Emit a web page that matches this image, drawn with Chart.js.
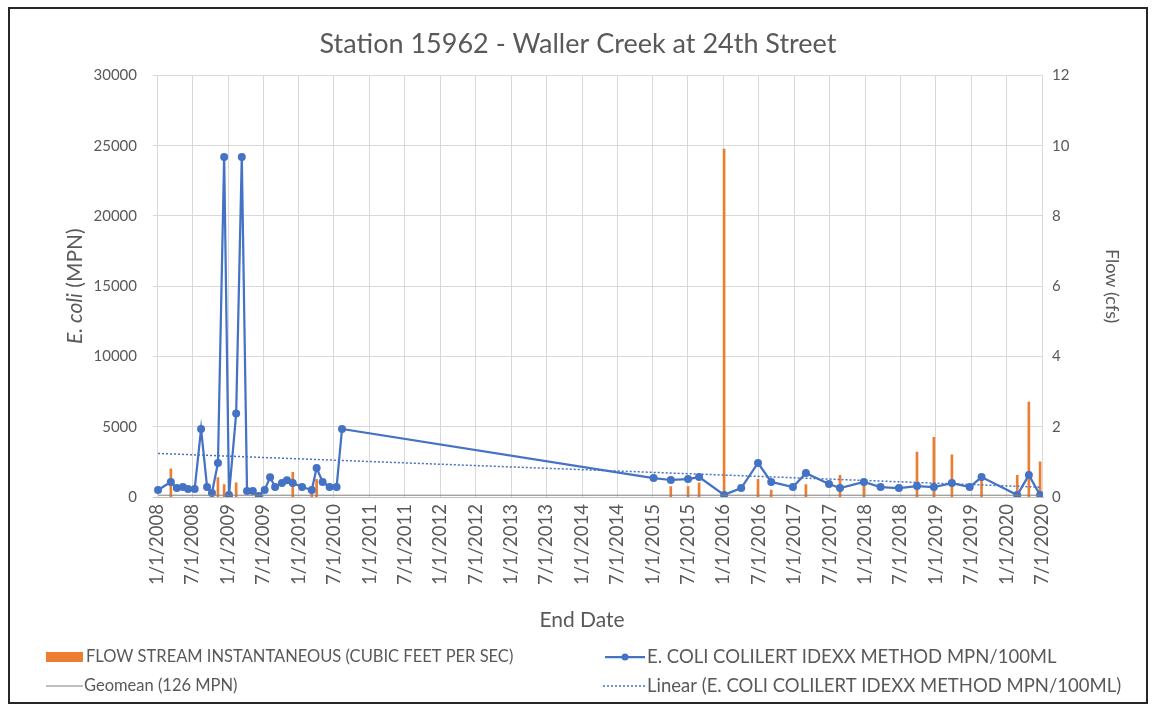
<!DOCTYPE html>
<html><head><meta charset="utf-8">
<script src="https://cdn.jsdelivr.net/npm/chart.js@4/dist/chart.umd.min.js"></script>
<style>html,body{margin:0;padding:0;background:#fff;}#wrap{position:relative;width:1156px;height:711px;}</style>
</head><body><div id="wrap"><canvas id="c" width="1156" height="711"></canvas></div>
<script>
const chartTitle = 'Station 15962 - Waller Creek at 24th Street';
const xAxisTitle = 'End Date';
const yLeftTitleItalic = 'E. coli';
const yLeftTitleRest = ' (MPN)';
const yRightTitle = 'Flow (cfs)';

const tickLabels = ['1/1/2008','7/1/2008','1/1/2009','7/1/2009','1/1/2010','7/1/2010','1/1/2011','7/1/2011',
  '1/1/2012','7/1/2012','1/1/2013','7/1/2013','1/1/2014','7/1/2014','1/1/2015','7/1/2015','1/1/2016','7/1/2016',
  '1/1/2017','7/1/2017','1/1/2018','7/1/2018','1/1/2019','7/1/2019','1/1/2020','7/1/2020'];

const ecoliDates = ['2008-01-06','2008-03-12','2008-04-12','2008-05-13','2008-06-09','2008-07-13','2008-08-15',
  '2008-09-15','2008-10-10','2008-11-10','2008-12-12','2009-01-06','2009-02-12','2009-03-13','2009-04-09',
  '2009-05-09','2009-06-09','2009-07-09','2009-08-06','2009-09-01','2009-10-06','2009-11-01','2009-12-01',
  '2010-01-18','2010-03-09','2010-04-03','2010-05-04','2010-06-09','2010-07-15','2010-08-12',
  '2015-01-05','2015-04-04','2015-07-02','2015-08-28','2016-01-04','2016-04-01','2016-06-27','2016-09-03',
  '2016-12-24','2017-03-01','2017-06-28','2017-08-24','2017-12-25','2018-03-21','2018-06-24','2018-09-25',
  '2018-12-21','2019-03-24','2019-06-24','2019-08-24','2020-02-24','2020-04-24','2020-06-21'];
const ecoliValues = [500,1070,640,710,570,570,4840,
  710,280,2420,24196,140,5940,24196,430,
  430,70,500,1400,710,990,1200,1000,
  710,500,2060,1070,710,710,4840,
  1350,1210,1280,1420,150,640,2420,1070,
  710,1700,920,640,1070,710,640,780,
  710,990,710,1420,140,1560,140];

const flowDates = ['2008-03-12','2008-11-10','2008-12-12','2009-02-12','2009-12-01','2010-03-09','2010-04-03',
  '2015-04-04','2015-07-02','2015-08-28','2016-01-04','2016-06-27','2016-09-03','2017-03-01','2017-08-24',
  '2017-12-25','2018-09-25','2018-12-21','2019-03-24','2019-08-24','2020-02-24','2020-04-24','2020-06-21'];
const flowValues = [0.8,0.55,0.35,0.4,0.7,0.3,0.5,
  0.3,0.3,0.4,9.9,0.5,0.2,0.35,0.62,
  0.45,1.28,1.7,1.2,0.6,0.62,2.7,1.0];

const geomeanDates = ['2008-01-06','2020-06-21'];
const geomeanValues = [126,126];
const trendDates = ['2008-01-06','2020-06-21'];
const trendValues = [3100,700];

const FONT = 'Lato';
const TXT = '#595959';
const BLUE = '#4472C4';
const ORANGE = '#ED7D31';

function dayISO(s){const p=s.split('-').map(Number);return Date.UTC(p[0],p[1]-1,p[2])/864e5;}
function dayUS(s){const p=s.split('/').map(Number);return Date.UTC(p[2],p[0]-1,p[1])/864e5;}
const tickValues = tickLabels.map(dayUS);
const pts = (ds,vs,f)=>ds.map((d,i)=>({x:f(d),y:vs[i]}));

const borderPlugin = {
  id:'frame',
  beforeDraw(chart){
    const c=chart.ctx;c.save();c.fillStyle='#fff';c.fillRect(0,0,chart.width,chart.height);
    c.strokeStyle='#262626';c.lineWidth=2;c.strokeRect(9,8,1138,695);c.restore();
  }
};
const axisTitlesPlugin = {
  id:'axisTitles',
  afterDraw(chart){
    const c=chart.ctx;const a=chart.chartArea;c.save();
    c.fillStyle=TXT;c.textBaseline='middle';
    // x axis title
    c.font='21px '+FONT;c.textAlign='center';c.fillText(xAxisTitle,582,620);
    // left y title with italic part
    c.translate(75,(a.top+a.bottom)/2);c.rotate(-Math.PI/2);
    const fi='italic 21px '+FONT, fn='21px '+FONT;
    c.font=fi;const w1=c.measureText(yLeftTitleItalic).width;
    c.font=fn;const w2=c.measureText(yLeftTitleRest).width;
    let x=-(w1+w2)/2;
    c.font=fi;c.textAlign='left';c.fillText(yLeftTitleItalic,x,0);
    c.font=fn;c.fillText(yLeftTitleRest,x+w1,0);
    c.restore();
  }
};
const legendPlugin = {
  id:'customLegend',
  afterDraw(chart){
    const c=chart.ctx;const ds=chart.data.datasets;c.save();
    c.fillStyle=TXT;c.textBaseline='middle';c.textAlign='left';
    const flow=ds[3], ec=ds[0], geo=ds[2], tr=ds[1];
    const fl='16.5px '+FONT, fr='18.5px '+FONT;
    c.fillStyle=flow.backgroundColor;c.fillRect(46,652,37,10);
    c.font=fl;c.fillStyle=TXT;c.fillText(flow.label,86,657);
    c.strokeStyle=ec.borderColor;c.lineWidth=2.25;c.beginPath();c.moveTo(605,657);c.lineTo(645,657);c.stroke();
    c.fillStyle=ec.borderColor;c.beginPath();c.arc(625,657,3.5,0,Math.PI*2);c.fill();
    c.font=fr;c.fillStyle=TXT;c.fillText(ec.label,647,657);
    c.strokeStyle=geo.borderColor;c.lineWidth=1;c.beginPath();c.moveTo(46,686);c.lineTo(83,686);c.stroke();
    c.font=fl;c.fillText(geo.label,84,686);
    c.strokeStyle=tr.borderColor;c.lineWidth=1.5;c.setLineDash([2,2]);c.beginPath();c.moveTo(603,686);c.lineTo(645,686);c.stroke();
    c.setLineDash([]);c.font=fr;c.fillText(tr.label,647,686);
    c.restore();
  }
};

function build(){
  new Chart(document.getElementById('c'),{
    data:{datasets:[
      {type:'line',label:'E. COLI COLILERT IDEXX METHOD MPN/100ML',data:pts(ecoliDates,ecoliValues,dayISO),yAxisID:'y',
        borderColor:BLUE,backgroundColor:BLUE,borderWidth:2.25,pointRadius:4,pointHoverRadius:4,pointBorderWidth:0,tension:0,order:2},
      {type:'line',label:'Linear (E. COLI COLILERT IDEXX METHOD MPN/100ML)',data:pts(trendDates,trendValues,dayISO),yAxisID:'y',
        borderColor:BLUE,borderWidth:1.5,borderDash:[2,2],pointRadius:0,order:1},
      {type:'line',label:'Geomean (126 MPN)',data:pts(geomeanDates,geomeanValues,dayISO),yAxisID:'y',
        borderColor:'#7F7F7F',borderWidth:1,pointRadius:0,order:0},
      {type:'bar',label:'FLOW STREAM INSTANTANEOUS (CUBIC FEET PER SEC)',data:pts(flowDates,flowValues,dayISO),yAxisID:'y1',
        backgroundColor:ORANGE,barThickness:2,order:3}
    ]},
    options:{
      responsive:false,animation:false,devicePixelRatio:1,
      layout:{padding:{left:0,right:0,top:0,bottom:80}},
      plugins:{
        legend:{display:false},tooltip:{enabled:false},
        title:{display:true,text:chartTitle,color:TXT,font:{family:FONT,size:27,weight:'normal'},padding:{top:28,bottom:15}}
      },
      scales:{
        x:{type:'linear',offset:false,min:dayISO('2007-12-11'),max:dayISO('2020-07-06'),
          afterBuildTicks:s=>{s.ticks=tickValues.map(v=>({value:v}));},
          afterFit:s=>{s.height=134;},
          ticks:{autoSkip:false,minRotation:90,maxRotation:90,padding:7,color:TXT,font:{family:FONT,size:18.5},
            callback:(v,i)=>tickLabels[i]},
          grid:{color:'#D9D9D9',drawTicks:false,offset:false},
          border:{color:'#BFBFBF',width:1},
          title:{display:false,text:xAxisTitle}
        },
        y:{position:'left',min:0,max:30000,afterFit:s=>{s.width=153;},
          ticks:{stepSize:5000,padding:16,color:TXT,font:{family:FONT,size:15},callback:v=>String(v)},
          grid:{color:'#D9D9D9',drawTicks:false},border:{display:false}},
        y1:{position:'right',min:0,max:12,afterFit:s=>{s.width=113;},
          ticks:{stepSize:2,padding:9,color:TXT,font:{family:FONT,size:15},callback:v=>String(v)},
          grid:{display:false,drawTicks:false},border:{display:false},
          title:{display:true,text:yRightTitle,color:TXT,font:{family:FONT,size:18},padding:{top:33,bottom:0}}}
      }
    },
    plugins:[borderPlugin,axisTitlesPlugin,legendPlugin]
  });
}
if(document.fonts&&document.fonts.load){Promise.all([document.fonts.load('15px Lato'),document.fonts.load('italic 21px Lato')]).then(build,build);}else build();
</script></body></html>
